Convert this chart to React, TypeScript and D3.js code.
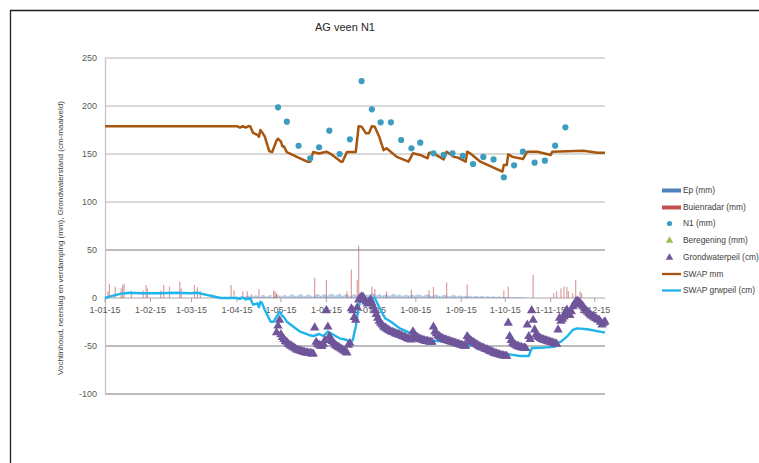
import React from "react";
import * as d3 from "d3";

// ---------- DATA ----------
const title = "AG veen N1";
const yTitle = "Vochtinhoud, neerslag en verdamping (mm), Grondwaterstand (cm-maaiveld)";
const yTicks = [250, 200, 150, 100, 50, 0, -50, -100];
const xTickDates = ["2015-01-01","2015-02-01","2015-03-01","2015-04-01","2015-05-01","2015-06-01","2015-07-01","2015-08-01","2015-09-01","2015-10-01","2015-11-01","2015-12-01"];
const xDomain = ["2015-01-01", "2015-12-08"];

const legendLabels = ["Ep (mm)", "Buienradar (mm)", "N1 (mm)", "Beregening (mm)", "Grondwaterpeil (cm)", "SWAP mm", "SWAP grwpeil (cm)"];

// Ep daily values (mm), from 2015-04-01
const epStart = "2015-04-01";
const epValues = [
  1.2,0.8,1.5,2.0,1.1,0.6,1.8,2.2,2.5,1.4,0.9,1.7,2.6,3.0,2.1,1.0,1.3,2.8,3.1,2.4,1.6,1.9,2.7,3.2,1.1,0.8,2.0,2.9,3.3,2.2,
  2.5,1.8,3.0,3.4,2.1,1.5,2.8,3.6,3.9,2.6,1.9,2.3,3.1,3.8,4.0,2.7,1.6,2.4,3.3,3.7,2.9,2.0,1.4,2.6,3.5,4.1,3.2,2.2,2.8,3.6,3.9,
  3.1,2.4,3.8,4.2,4.5,3.3,2.6,3.0,3.9,4.4,3.5,2.1,2.9,3.7,4.3,3.0,1.8,2.5,3.6,4.0,3.2,2.3,1.5,2.7,3.4,4.1,4.6,3.8,3.1,3.5,
  4.0,4.4,4.7,3.6,2.8,3.3,4.1,3.5,2.4,2.9,3.7,4.2,3.0,2.2,3.1,3.9,4.3,3.4,2.6,3.2,3.8,2.7,2.0,2.8,3.5,3.0,2.3,2.9,3.6,3.2,2.5,
  3.0,3.5,3.9,3.2,2.6,2.1,2.9,3.4,3.8,3.0,2.4,2.0,2.7,3.3,3.6,2.8,2.2,1.8,2.5,3.1,3.4,2.6,2.0,1.7,2.4,2.9,3.2,2.5,1.9,2.3,2.7,
  2.2,1.8,2.5,2.0,1.5,1.9,2.3,1.7,1.3,2.0,2.4,1.8,1.4,1.6,2.1,1.7,1.2,1.5,1.9,1.4,1.1,1.6,1.8,1.3,1.0,1.4,1.7,1.2,0.9,1.1,
  1.0,0.8,1.2,0.9,0.7,1.0,0.8,0.6,0.9,0.7,0.5,0.8,0.6,0.5,0.7
];

// Buienradar rain (mm)
const rainDates = ["2015-01-03","2015-01-04","2015-01-08","2015-01-12","2015-01-13","2015-01-14","2015-01-19","2015-01-27","2015-01-29","2015-01-30",
  "2015-02-08","2015-02-10","2015-02-14","2015-02-21","2015-02-22","2015-03-03","2015-03-05","2015-03-07","2015-03-15","2015-03-28","2015-03-30",
  "2015-04-05","2015-04-08","2015-04-11","2015-04-16","2015-04-26","2015-04-27","2015-04-28","2015-05-24","2015-06-01","2015-06-15","2015-06-18",
  "2015-06-22","2015-06-23","2015-07-02","2015-07-04","2015-07-12","2015-07-29","2015-08-10","2015-08-13","2015-08-22","2015-09-05","2015-09-30",
  "2015-10-03","2015-10-20","2015-11-03","2015-11-05","2015-11-08","2015-11-10","2015-11-12","2015-11-13","2015-11-16","2015-11-18","2015-11-21","2015-11-22"];
const rainValues = [7,15,12,10,13.5,15,7,8,13.5,10,
  8,13.5,12,17,10,13.5,11,7,4,13.5,8,
  7,7,4,9,8,7,5,20.8,19,7,29.5,
  19,54.5,12,9.4,7,8.7,8,11.5,16.3,14,8,
  12,24,5,7,10,12,11.5,7,5,19,7,5];

// N1 measurements (mm)
const n1Dates = ["2015-04-29","2015-05-05","2015-05-13","2015-05-21","2015-05-27","2015-06-03","2015-06-10","2015-06-17","2015-06-25","2015-07-02",
  "2015-07-08","2015-07-15","2015-07-22","2015-07-29","2015-08-04","2015-08-13","2015-08-20","2015-08-26","2015-09-02","2015-09-09",
  "2015-09-16","2015-09-23","2015-09-30","2015-10-07","2015-10-13","2015-10-21","2015-10-28","2015-11-04","2015-11-11"];
const n1Values = [198.6,183.7,158.6,145.5,157,174.3,150,165.3,226,196.5,
  183,183,164.6,156,161.8,150.7,149,150.7,148,139.6,
  147,144.4,125.7,138.2,152.4,141,143,158.7,177.8];

// Grondwaterpeil (cm), daily from 2015-04-28
const gwStart = "2015-04-28";
const gwValues = [
  -36,-29,-23,-38,-41,-43,-45,-46,-48,-49,-50,-51,-52,-53,-54,-54.5,-55,-55.5,-56,-56.5,-57,-57,-57.5,-57.5,-58,-58,
  -31,-46,-48,-49,-50,-50,-48,-44,-13,-30,-40,-43,-45,-47,-49,-50,-51,-52,-53,-54,-55,-56,-57,
  -49,-47,-11,-13,-20,-23,-10,-2,0,1.5,1,-2,-4,-6,-4,-2,-5,-9,-13,-17,-21,-24,-26,-28,-30,-31,-32,-33,-34,-35,-35.5,-36,-37,-37.5,-38,-38.5,-39,-40,-40.5,-41,-42,-42.5,-43,-43.5,
  -35,-38,-40,-41,-42,-43,-43.5,-44,-44.5,-45,-45,-45.5,-46,-46,
  -30,-35,-37,-39,-40,-41,-42,-43,-43.5,-44,-44.5,-45,-45.5,-46,-46.5,-47,-47.5,-48,-48.5,-49,-49.5,-50,-50,
  -40,-42,-44,-45,-46,-47,-48,-49,-50,-51,-51.5,-52,-53,-53.5,-54,-55,-55.5,-56,-57,-57.5,-58,-58.5,-59,-59.5,-60,-60,-60.5,-60.5,
  -26,-40,-44,-47,-48,-49,-50,-50.5,-51,-51.5,-52,-52,-52.5,
  -28,-40,-43,-13,-23,-33,-38,-40,-41,-42,-43,-43.5,-44,-44.5,-45,-45.5,-46,-46.5,-47,-47.5,-48,
  -33,-21,-24,-22,-19.5,-15,-12.5,-16,-18,-14,-9,-7,-4,-3,-4,-5.5,-7,-9,-11,-13,-14.5,-16,-17.5,-18.5,-19.5,-20.5,-21.5,-22.5,-23,-25,-28,-26,-24.7
];

// SWAP mm (brown line)
const swapMmDates = ["2015-01-01","2015-04-01","2015-04-03","2015-04-05","2015-04-07","2015-04-09","2015-04-10","2015-04-12","2015-04-15","2015-04-16",
  "2015-04-17","2015-04-18","2015-04-20","2015-04-23","2015-04-25","2015-04-28","2015-04-29","2015-05-01","2015-05-02","2015-05-03","2015-05-05",
  "2015-05-09","2015-05-14","2015-05-19","2015-05-21","2015-05-23","2015-05-27","2015-06-01","2015-06-05","2015-06-11","2015-06-12","2015-06-15",
  "2015-06-21","2015-06-23","2015-06-25","2015-06-28","2015-06-30","2015-07-02","2015-07-04","2015-07-07","2015-07-10","2015-07-12","2015-07-19",
  "2015-07-27","2015-07-30","2015-08-04","2015-08-09","2015-08-10","2015-08-13","2015-08-20","2015-08-22","2015-08-27","2015-08-30","2015-09-04",
  "2015-09-05","2015-09-07","2015-09-14","2015-09-29","2015-09-30","2015-10-02","2015-10-03","2015-10-06","2015-10-13","2015-10-16","2015-10-23",
  "2015-11-01","2015-11-02","2015-11-23","2015-11-28","2015-12-03","2015-12-08"];
const swapMmValues = [179,179,177.5,179,177.5,179,179,172,170,168,
  175,173,168,153,152,164,166,163,158,158,152,
  149,145.5,142,142,152,150.5,152.4,149,142,142,152,
  152,179,178.5,171.5,171.5,179,178.5,168,154,156,147,
  142,150.7,149,145.5,151.4,150.7,144.4,152.4,147,146,142,
  152.4,150.7,142,131.6,138.5,138.5,149.7,147,144.8,152.4,152.4,
  149,152.4,153.4,152.4,151.4,151.4];

// SWAP grwpeil (cm) (light blue line)
const swapGwDates = ["2015-01-01","2015-01-04","2015-01-12","2015-01-15","2015-01-18","2015-01-25","2015-02-08","2015-02-18","2015-02-28","2015-03-05",
  "2015-03-12","2015-03-21","2015-04-01","2015-04-03","2015-04-05","2015-04-07","2015-04-10","2015-04-12","2015-04-15","2015-04-16","2015-04-17",
  "2015-04-18","2015-04-20","2015-04-24","2015-04-26","2015-04-28","2015-04-30","2015-05-02","2015-05-03","2015-05-05","2015-05-10","2015-05-14",
  "2015-05-20","2015-05-23","2015-05-27","2015-05-30","2015-06-02","2015-06-06","2015-06-10","2015-06-15","2015-06-17","2015-06-19","2015-06-21",
  "2015-06-22","2015-06-24","2015-06-25","2015-06-28","2015-06-30","2015-07-01","2015-07-04","2015-07-08","2015-07-11","2015-07-15","2015-07-21",
  "2015-07-31","2015-08-09","2015-08-20","2015-08-29","2015-09-10","2015-09-21","2015-09-30","2015-10-02","2015-10-11","2015-10-17","2015-10-19",
  "2015-10-30","2015-11-04","2015-11-05","2015-11-08","2015-11-12","2015-11-16","2015-11-19","2015-11-26","2015-12-08"];
const swapGwValues = [0,1.4,4.5,5,5.5,5,5,5.5,5,5.5,
  3,0,0,-1,0.5,-1.5,0,-7,-5.5,-9.7,-3.8,
  -5,-12.5,-24.7,-24.7,-19.5,-14,-18.8,-20,-24.7,-30.5,-35,
  -38.5,-39.6,-37.5,-39.6,-35,-38.5,-42,-43.75,-47.2,-43.75,-29.9,
  -19.5,-2,1.4,-3.8,-5.5,0,0,-12.5,-21,-24.7,-31.6,
  -38.5,-43.75,-45.5,-47.2,-50,-53.5,-58.3,-58.3,-60.4,-60.4,-52.4,
  -51.4,-50.7,-47.2,-45.5,-40.3,-33.3,-31.6,-32.6,-36];

// ---------- COMPONENT ----------
const W = 759, H = 463;
const colors = {
  ep: "#4f81bd",
  rain: "#c0504d",
  n1: "#3d9dbf",
  bereg: "#9bbb59",
  gw: "#6f559a",
  swapMm: "#a8560f",
  swapGw: "#1fb4ea",
};
const FONT = "'Liberation Sans', 'DejaVu Sans', sans-serif";

export default function App() {
  const parse = d3.timeParse("%Y-%m-%d");
  const x = d3.scaleTime().domain(xDomain.map((s) => parse(s) as Date)).range([105, 605]);
  const y = d3.scaleLinear().domain([-100, 250]).range([394, 58]);

  const epStartD = parse(epStart) as Date;
  const gwStartD = parse(gwStart) as Date;
  const epData = epValues.map((v, i) => ({ d: d3.timeDay.offset(epStartD, i), v }));
  const rainData = rainDates.map((s, i) => ({ d: parse(s) as Date, v: rainValues[i] }));
  const n1Data = n1Dates.map((s, i) => ({ d: parse(s) as Date, v: n1Values[i] }));
  const gwData = gwValues.map((v, i) => ({ d: d3.timeDay.offset(gwStartD, i), v }));
  const mmData = swapMmDates.map((s, i) => ({ d: parse(s) as Date, v: swapMmValues[i] }));
  const sgData = swapGwDates.map((s, i) => ({ d: parse(s) as Date, v: swapGwValues[i] }));

  const line = d3.line<{ d: Date; v: number }>().x((p) => x(p.d)).y((p) => y(p.v));
  const tri = d3.symbol().type(d3.symbolTriangle).size(38)() as string;
  const triLegend = d3.symbol().type(d3.symbolTriangle).size(24)() as string;

  const legendY = [190.5, 207.5, 223.5, 240.5, 257.5, 274, 290.5];
  const lx0 = 662, lx1 = 681, ltx = 683;

  return (
    <svg width={W} height={H} style={{ position: "absolute", left: 0, top: 0, background: "#fff" }} fontFamily={FONT}>
      <rect x={0} y={0} width={W} height={H} fill="#fff" />
      {/* outer border */}
      <path d={`M10.5,${H + 5} L10.5,10.5 L${W + 5},10.5`} fill="none" stroke="#1e1e1e" strokeWidth={1.3} />

      {/* title */}
      <text x={345} y={31} textAnchor="middle" fontSize={11} fill="#262626">{title}</text>

      {/* y axis title */}
      <text transform={`translate(63,238) rotate(-90)`} textAnchor="middle" fontSize={8} fill="#404040">{yTitle}</text>

      {/* gridlines */}
      {yTicks.map((t) => (
        <line key={t} x1={105} x2={605} y1={y(t)} y2={y(t)} stroke={t > 50 ? "#cdcdcd" : t === 0 ? "#a8a8a8" : "#a6a6a6"} strokeWidth={t === 0 ? 1 : 1.3} />
      ))}
      {/* y axis line */}
      <line x1={105.5} x2={105.5} y1={58} y2={394} stroke="#c4c4c4" strokeWidth={1.3} />
      {/* y tick labels */}
      {yTicks.map((t) => (
        <text key={"l" + t} x={97} y={y(t)} dy="0.35em" textAnchor="end" fontSize={9} fill="#595959">{t}</text>
      ))}

      {/* x ticks on zero line */}
      {xTickDates.map((s) => {
        const xv = x(parse(s) as Date);
        return (
          <g key={s}>
            <line x1={xv} x2={xv} y1={y(0)} y2={y(0) + 4} stroke="#a6a6a6" strokeWidth={1} />
            <text x={xv} y={313} textAnchor="middle" fontSize={9} fill="#595959">
              {d3.timeFormat("%-d-%m-%y")(parse(s) as Date)}
            </text>
          </g>
        );
      })}

      {/* Ep bars */}
      {epData.map((p, i) => (
        <rect key={"ep" + i} x={x(p.d) - 0.6} y={y(p.v)} width={1.2} height={y(0) - y(p.v)} fill={colors.ep} opacity={0.5} />
      ))}
      {/* rain bars */}
      {rainData.map((p, i) => (
        <rect key={"r" + i} x={x(p.d) - 0.6} y={y(p.v)} width={1.2} height={y(0) - y(p.v)} fill={colors.rain} opacity={0.55} />
      ))}

      {/* SWAP mm */}
      <path d={line(mmData) as string} fill="none" stroke={colors.swapMm} strokeWidth={2.5} strokeLinejoin="round" />
      {/* SWAP grwpeil */}
      <path d={line(sgData) as string} fill="none" stroke={colors.swapGw} strokeWidth={2.4} strokeLinejoin="round" />

      {/* N1 dots */}
      {n1Data.map((p, i) => (
        <circle key={"n" + i} cx={x(p.d)} cy={y(p.v)} r={3.1} fill={colors.n1} />
      ))}
      {/* Grondwaterpeil triangles */}
      {gwData.map((p, i) => (
        <path key={"g" + i} d={tri} transform={`translate(${x(p.d)},${y(p.v)})`} fill={colors.gw} />
      ))}

      {/* legend */}
      <g fontSize={8.4} fill="#404040">
        <rect x={lx0} y={legendY[0] - 2} width={lx1 - lx0} height={4} fill={colors.ep} />
        <text x={ltx} y={legendY[0]} dy="0.35em">{legendLabels[0]}</text>
        <rect x={lx0} y={legendY[1] - 2} width={lx1 - lx0} height={4} fill={colors.rain} />
        <text x={ltx} y={legendY[1]} dy="0.35em">{legendLabels[1]}</text>
        <circle cx={669.5} cy={legendY[2]} r={2.6} fill={colors.n1} />
        <text x={ltx} y={legendY[2]} dy="0.35em">{legendLabels[2]}</text>
        <path d={triLegend} transform={`translate(669.5,${legendY[3]})`} fill={colors.bereg} />
        <text x={ltx} y={legendY[3]} dy="0.35em">{legendLabels[3]}</text>
        <path d={triLegend} transform={`translate(669.5,${legendY[4]})`} fill={colors.gw} />
        <text x={ltx} y={legendY[4]} dy="0.35em">{legendLabels[4]}</text>
        <line x1={lx0} x2={lx1} y1={legendY[5]} y2={legendY[5]} stroke={colors.swapMm} strokeWidth={2.3} />
        <text x={ltx} y={legendY[5]} dy="0.35em">{legendLabels[5]}</text>
        <line x1={lx0} x2={lx1} y1={legendY[6]} y2={legendY[6]} stroke={colors.swapGw} strokeWidth={2.3} />
        <text x={ltx} y={legendY[6]} dy="0.35em">{legendLabels[6]}</text>
      </g>
    </svg>
  );
}
